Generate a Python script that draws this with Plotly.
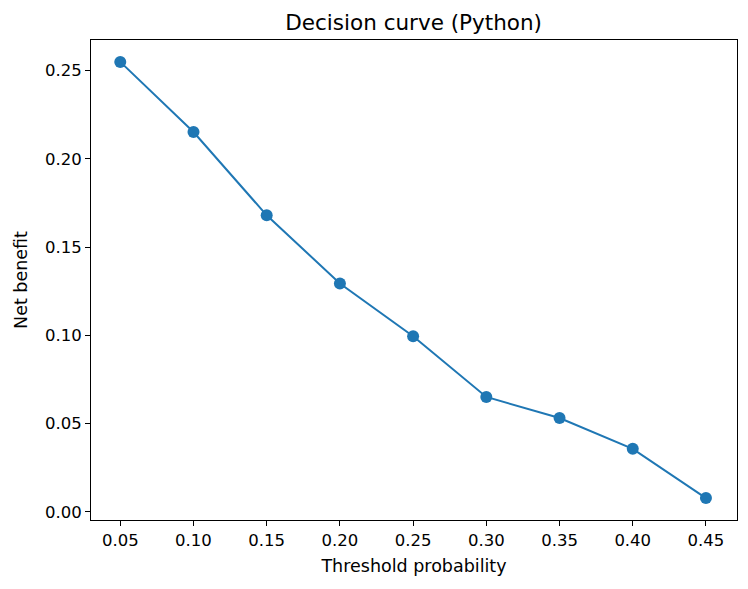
import plotly.graph_objects as go

# values
thresholds = [0.05, 0.10, 0.15, 0.20, 0.25, 0.30, 0.35, 0.40, 0.45]
net_benefit = [0.2549, 0.2152, 0.1680, 0.1294, 0.0995, 0.0651, 0.0532, 0.0357, 0.0078]

x_ticks = [0.05, 0.10, 0.15, 0.20, 0.25, 0.30, 0.35, 0.40, 0.45]
y_ticks = [0.00, 0.05, 0.10, 0.15, 0.20, 0.25]

fig = go.Figure()
fig.add_trace(go.Scatter(
    x=thresholds,
    y=net_benefit,
    mode='lines+markers',
    line=dict(color='#1f77b4', width=2),
    marker=dict(color='#1f77b4', size=12),
    showlegend=False,
))

axis_style = dict(
    showline=True, linecolor='black', linewidth=1, mirror=True,
    ticks='outside', ticklen=5, tickwidth=1, tickcolor='black',
    showgrid=False, zeroline=False, automargin=False,
    tickfont=dict(size=16.5, color='black'),
)

fig.update_layout(
    width=748, height=589,
    margin=dict(l=91, r=11, t=40, b=69),
    paper_bgcolor='white', plot_bgcolor='white',
    font=dict(family='DejaVu Sans', color='black'),
    title=dict(text='Decision curve (Python)', x=0.553, xanchor='center',
               y=0.962, yanchor='middle', font=dict(size=21.5, color='black')),
)
fig.update_xaxes(axis_style, range=[0.03, 0.4712], tickvals=x_ticks,
                 ticktext=['%.2f' % v for v in x_ticks],
                 title=dict(text='Threshold probability', font=dict(size=17.5), standoff=10))
fig.update_yaxes(axis_style, range=[-0.0046, 0.2673], tickvals=y_ticks,
                 ticktext=['%.2f' % v for v in y_ticks],
                 title=dict(text='Net benefit', font=dict(size=17.5), standoff=12))

# the page body has a default 8px margin; drop it so the figure sits at 0,0
fig.write_html("out.html", config={'displayModeBar': False},
               post_script="document.body.style.margin='0';")
